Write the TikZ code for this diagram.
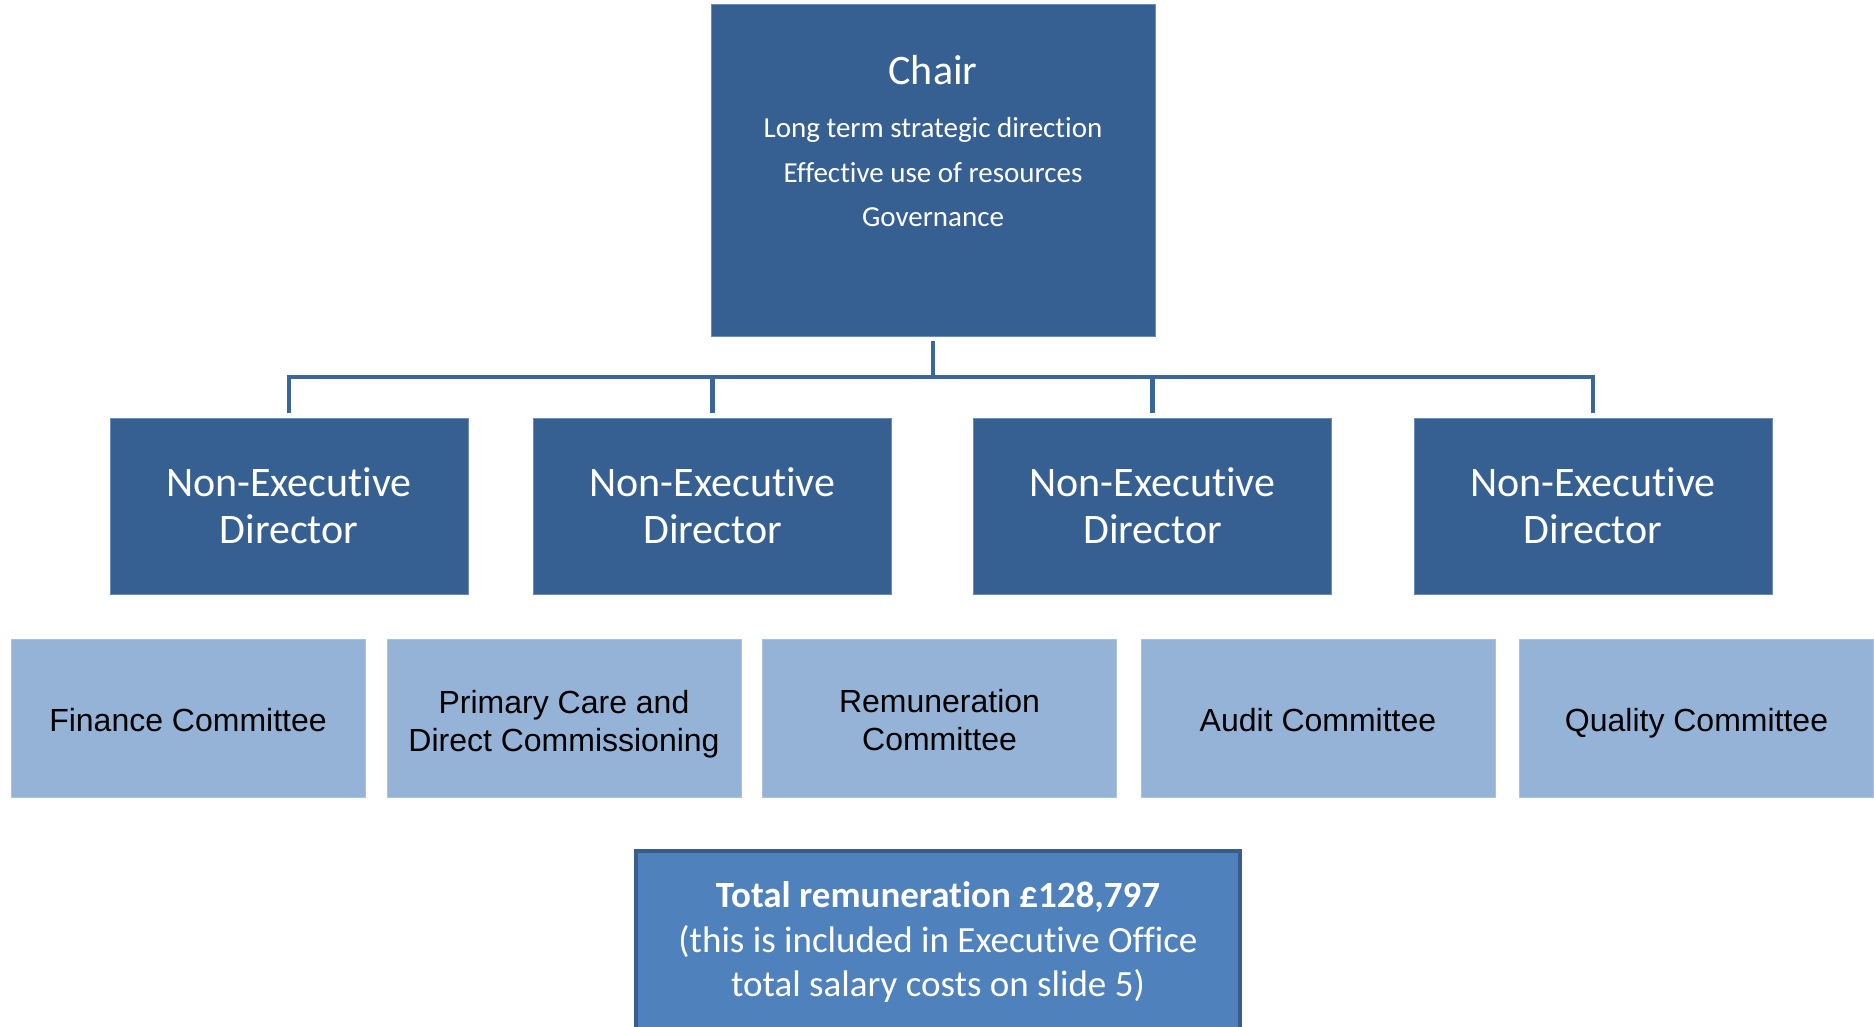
\documentclass[tikz,border=0pt]{standalone}
\usepackage{fontspec}
\setmainfont[RawFeature={-liga;-clig;-calt;-dlig}]{Carlito}
\newfontfamily\arialf{Liberation Sans}
\definecolor{boxdark}{HTML}{376092}
\definecolor{boxedge}{HTML}{6A8CB8}
\definecolor{connc}{HTML}{3A6699}
\definecolor{commfill}{HTML}{95B3D7}
\definecolor{commedge}{HTML}{A9C2E0}
\definecolor{totfill}{HTML}{4F81BD}
\definecolor{totedge}{HTML}{385D8A}
\begin{document}
\begin{tikzpicture}[x=1pt,y=-1pt,
  chairbox/.style={fill=boxdark, draw=boxedge, line width=0.8pt, inner sep=0pt, outer sep=0pt,
    minimum width=444pt, minimum height=332pt},
  nedbox/.style={fill=boxdark, draw=boxedge, line width=0.8pt, inner sep=0pt, outer sep=0pt,
    minimum width=358pt, minimum height=176pt, text=white, align=center,
    font=\fontsize{42}{47}\selectfont},
  commbox/.style={fill=commfill, draw=commedge, line width=0.8pt, inner sep=0pt, outer sep=0pt,
    minimum width=354pt, minimum height=158pt},
  commtext/.style={font=\arialf\fontsize{32}{38}\selectfont, inner sep=0pt, align=center, text=black},
  totbox/.style={fill=totfill, draw=totedge, line width=4pt, inner sep=0pt, outer sep=0pt,
    minimum width=604pt, minimum height=200pt},
  wtext/.style={text=white, inner sep=0pt, anchor=base},
  conn/.style={draw=connc, line width=4.5pt, shorten <=5pt, shorten >=5pt}
]
\useasboundingbox (0,0) rectangle (1874,1026);
\clip (0,0) rectangle (1874,1026);

% Chair
\node[chairbox] (chair) at (933,170) {};
\node[wtext, font=\fontsize{42}{47}\selectfont] (chairt) at (933,84) {Chair};
\node[wtext, font=\fontsize{29}{35}\selectfont] (chairl1) at (933,137) {Long term strategic direction};
\node[wtext, font=\fontsize{29}{35}\selectfont] (chairl2) at (933,182) {Effective use of resources};
\node[wtext, font=\fontsize{29}{35}\selectfont] (chairl3) at (933,226) {Governance};

% Non-Executive Directors
\node[nedbox] (ned1) at (289,506) {Non-Executive\\Director};
\node[nedbox] (ned2) at (712.5,506) {Non-Executive\\Director};
\node[nedbox] (ned3) at (1152.5,506) {Non-Executive\\Director};
\node[nedbox] (ned4) at (1593,506) {Non-Executive\\Director};

% Connectors
\coordinate (bus) at (933,377);
\draw[conn, shorten >=0pt] (chair.south) -- (chair.south |- bus);
\draw[conn] (ned1.north) -- (ned1.north |- bus) -- (ned4.north |- bus) -- (ned4.north);
\draw[conn, shorten <=0pt] (ned2.north |- bus) -- (ned2.north);
\draw[conn, shorten <=0pt] (ned3.north |- bus) -- (ned3.north);

% Committees (boxes)
\node[commbox] (fin) at (188,718) {};
\node[commbox] (prim) at (564,718) {};
\node[commbox] (rem) at (939.5,718) {};
\node[commbox] (aud) at (1318,718) {};
\node[commbox] (qual) at (1696.5,718) {};
% Committee labels
\node[commtext] (fint) at ([yshift=-2.5pt]fin.center) {Finance Committee};
\node[commtext] (primt) at ([yshift=-6pt]prim.center) {Primary Care and\\Direct Commissioning};
\node[commtext] (remt) at ([yshift=-2.5pt]rem.center) {Remuneration\\Committee};
\node[commtext] (audt) at ([yshift=-2.5pt]aud.center) {Audit Committee};
\node[commtext] (qualt) at ([yshift=-5pt]qual.center) {Quality Committee};

% Total remuneration
\node[totbox] (total) at (938,951) {};
\node[wtext, font=\bfseries\fontsize{37}{45}\selectfont] (tot1) at (938,907) {Total remuneration £128,797};
\node[wtext, font=\fontsize{37}{45}\selectfont] (tot2) at (938,952) {(this is included in Executive Office};
\node[wtext, font=\fontsize{37}{45}\selectfont] (tot3) at (938,996) {total salary costs on slide 5)};
\end{tikzpicture}
\end{document}
